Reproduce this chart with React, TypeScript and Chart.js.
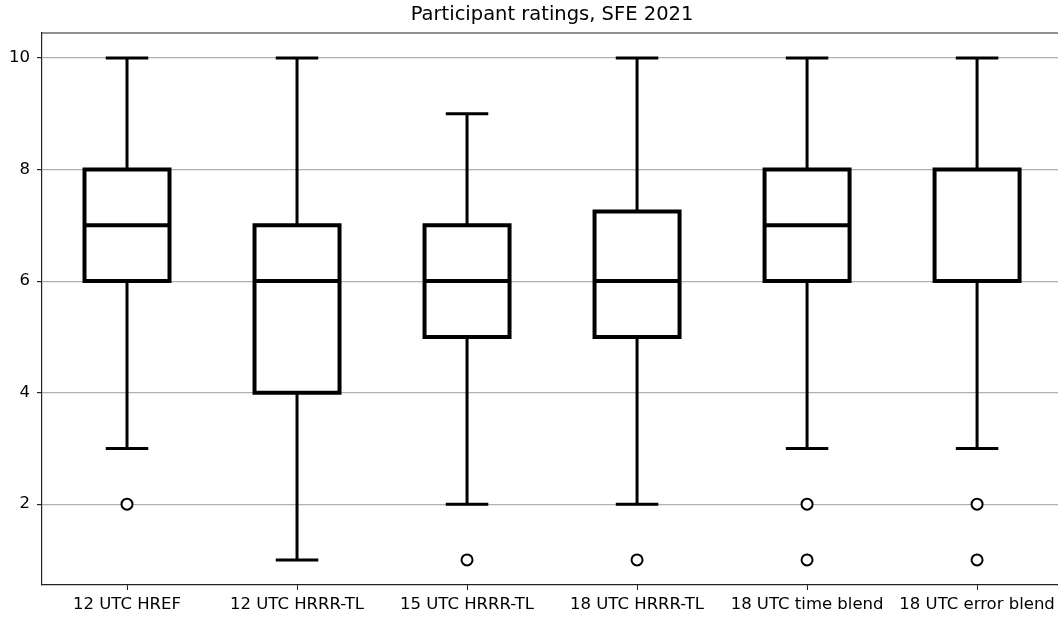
import React, { useEffect, useRef } from "react";
import { Chart, registerables } from "chart.js";

Chart.register(...registerables);

const categories = [
  "12 UTC HREF",
  "12 UTC HRRR-TL",
  "15 UTC HRRR-TL",
  "18 UTC HRRR-TL",
  "18 UTC time blend",
  "18 UTC error blend",
];
const whiskerLow = [3, 1, 2, 2, 3, 3];
const quartile1 = [6, 4, 5, 5, 6, 6];
const medians = [7, 6, 6, 6, 7, 6];
const quartile3 = [8, 7, 7, 7.25, 8, 8];
const whiskerHigh = [10, 10, 9, 10, 10, 10];
const outliers: number[][] = [[2], [], [1], [1], [2, 1], [2, 1]];
const yTicks = [2, 4, 6, 8, 10];
const titleText = "Participant ratings, SFE 2021";

const FONT = "'DejaVu Sans', sans-serif";

const boxPlugin = {
  id: "boxes",
  beforeDatasetsDraw(chart: any) {
    const ctx = chart.ctx;
    const xs = chart.scales.x;
    const ys = chart.scales.y;
    ctx.save();
    ctx.strokeStyle = "#000";
    ctx.lineCap = "butt";
    ctx.lineJoin = "miter";
    categories.forEach((_, i) => {
      const pos = i + 1;
      const xl = xs.getPixelForValue(pos - 0.25);
      const xr = xs.getPixelForValue(pos + 0.25);
      const xc = xs.getPixelForValue(pos);
      const cl = xs.getPixelForValue(pos - 0.125);
      const cr = xs.getPixelForValue(pos + 0.125);
      const yq1 = ys.getPixelForValue(quartile1[i]);
      const yq3 = ys.getPixelForValue(quartile3[i]);
      const ymed = ys.getPixelForValue(medians[i]);
      const ylo = ys.getPixelForValue(whiskerLow[i]);
      const yhi = ys.getPixelForValue(whiskerHigh[i]);
      ctx.lineWidth = 3;
      ctx.beginPath();
      ctx.moveTo(xc, yq1);
      ctx.lineTo(xc, ylo);
      ctx.moveTo(xc, yq3);
      ctx.lineTo(xc, yhi);
      ctx.moveTo(cl, ylo);
      ctx.lineTo(cr, ylo);
      ctx.moveTo(cl, yhi);
      ctx.lineTo(cr, yhi);
      ctx.stroke();
      ctx.lineWidth = 4;
      ctx.fillStyle = "#fff";
      ctx.beginPath();
      ctx.rect(xl, yq3, xr - xl, yq1 - yq3);
      ctx.fill();
      ctx.stroke();
      ctx.beginPath();
      ctx.moveTo(xl, ymed);
      ctx.lineTo(xr, ymed);
      ctx.stroke();
    });
    ctx.restore();
  },
  afterDraw(chart: any) {
    const ctx = chart.ctx;
    const area = chart.chartArea;
    const xs = chart.scales.x;
    ctx.save();
    ctx.strokeStyle = "#222";
    ctx.lineWidth = 1.2;
    ctx.beginPath();
    ctx.moveTo(area.left, area.top);
    ctx.lineTo(area.right, area.top);
    ctx.stroke();
    ctx.fillStyle = "#000";
    ctx.font = `19.5px ${FONT}`;
    ctx.textAlign = "center";
    ctx.textBaseline = "middle";
    ctx.fillText(titleText, xs.getPixelForValue(3.5), 15);
    ctx.restore();
  },
};

export default function App() {
  const ref = useRef<HTMLCanvasElement | null>(null);
  useEffect(() => {
    if (!ref.current) return;
    const flierPoints: { x: number; y: number }[] = [];
    outliers.forEach((arr, i) => arr.forEach((v) => flierPoints.push({ x: i + 1, y: v })));
    const chart = new Chart(ref.current, {
      type: "scatter",
      data: {
        datasets: [
          {
            data: flierPoints,
            pointRadius: 5.5,
            pointBorderWidth: 2,
            pointBackgroundColor: "#fff",
            pointBorderColor: "#000",
            pointStyle: "circle",
          },
        ],
      },
      options: {
        animation: false,
        responsive: false,
        devicePixelRatio: 1,
        layout: { autoPadding: false, padding: { top: 33, left: 0, right: 0, bottom: 0 } },
        plugins: {
          legend: { display: false },
          tooltip: { enabled: false },
          title: { display: false },
        },
        scales: {
          x: {
            type: "linear",
            min: 0.5,
            max: 6.476,
            afterBuildTicks: (s: any) => {
              s.ticks = categories.map((_, i) => ({ value: i + 1 }));
            },
            afterFit: (s: any) => {
              s.height = 32;
              s.paddingLeft = 0;
              s.paddingRight = 0;
            },
            ticks: {
              autoSkip: false,
              maxRotation: 0,
              padding: 5,
              color: "#000",
              font: { family: FONT, size: 16.5 },
              callback: (v: any) => categories[Math.round(Number(v)) - 1] ?? "",
            },
            grid: {
              drawOnChartArea: false,
              drawTicks: true,
              tickLength: 5,
              color: "#222",
            },
            border: { display: true, color: "#222", width: 1.2 },
          },
          y: {
            type: "linear",
            min: 0.55,
            max: 10.45,
            afterBuildTicks: (s: any) => {
              s.ticks = yTicks.map((v) => ({ value: v }));
            },
            afterFit: (s: any) => {
              s.width = 42;
              s.paddingTop = 0;
              s.paddingBottom = 0;
            },
            ticks: {
              padding: 7,
              color: "#000",
              font: { family: FONT, size: 16.5 },
              callback: (v: any) => String(v),
            },
            grid: {
              color: "#b0b0b0",
              lineWidth: 1.2,
              drawTicks: true,
              tickLength: 5,
              tickColor: "#222",
            },
            border: { display: true, color: "#222", width: 1.2 },
          },
        },
      },
      plugins: [boxPlugin],
    });
    return () => chart.destroy();
  }, []);
  return (
    <div style={{ position: "absolute", left: 0, top: 0, width: 1058, height: 617, overflow: "hidden", background: "#fff" }}>
      <canvas ref={ref} width={1058} height={617} />
    </div>
  );
}
